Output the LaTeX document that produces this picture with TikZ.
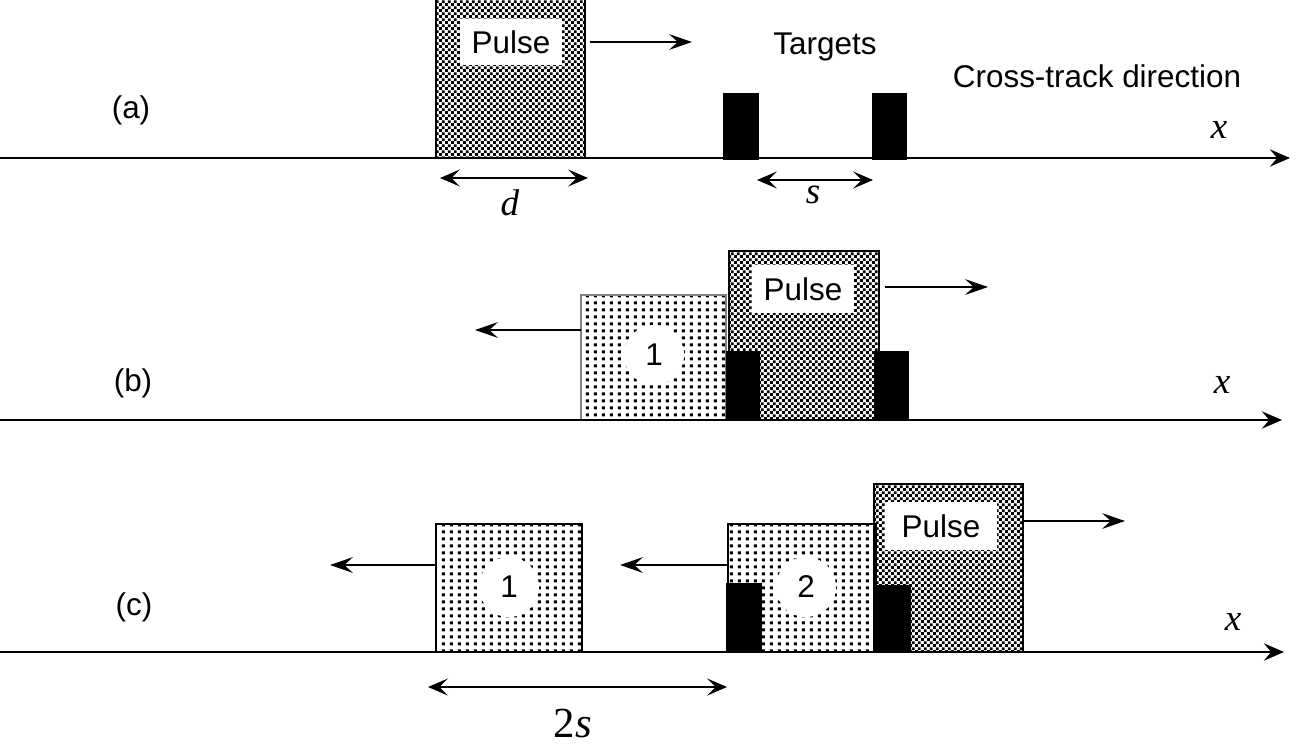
\documentclass[tikz,border=0pt]{standalone}
\usepackage{fontspec}
\setmainfont{Liberation Sans}
\newfontfamily\timesfont{Liberation Serif}
\usetikzlibrary{positioning}
\usetikzlibrary{arrows.meta}
\usetikzlibrary{patterns.meta}

\tikzdeclarepattern{
  name=checks,
  tile size={(2.2pt,2.2pt)},
  bounding box={(0pt,0pt) and (2.2pt,2.2pt)},
  code={\fill (0pt,0pt) rectangle (1.1pt,1.1pt);
        \fill (1.1pt,1.1pt) rectangle (2.2pt,2.2pt);}
}
\tikzdeclarepattern{
  name=dotgrid,
  tile size={(2.8pt,2.5pt)},
  bounding box={(0pt,0pt) and (2.8pt,2.5pt)},
  code={\fill (0.7pt,0.6pt) rectangle (1.9pt,1.8pt);}
}

\newcommand{\varit}[1]{{\timesfont\itshape #1}}

\begin{document}
\begin{tikzpicture}[x=0.35pt, y=-0.35pt,
  axis/.style={line width=0.9pt, -{Stealth[length=7pt,width=6pt,inset=2.5pt]}},
  move/.style={line width=0.6pt, -{Stealth[length=8pt,width=5.5pt,inset=3pt]}},
  span/.style={line width=0.6pt, {Stealth[length=7pt,width=6pt,inset=3pt]}-{Stealth[length=7pt,width=6pt,inset=3pt]}},
  pulsebox/.style={draw, line width=0.6pt, pattern=checks},
  echobox/.style={draw, line width=0.6pt, pattern=dotgrid},
  target/.style={fill=black},
  tag/.style={fill=white, inner sep=0pt, minimum height=16pt, font=\fontsize{11}{13}\selectfont},
  num/.style={circle, fill=white, inner sep=0pt, minimum size=21pt, font=\fontsize{11}{13}\selectfont},
  plain/.style={font=\fontsize{11}{13}\selectfont},
  var/.style={font=\fontsize{13}{15}\selectfont}]

\useasboundingbox (0,0) rectangle (1296,746);

% (a)
{
\draw[pulsebox] (436,-5) rectangle (585,158);
\fill[target] (723,93) rectangle (759,160);
\fill[target] (872,93) rectangle (907,160);

\coordinate (ax0) at (0,158);
\coordinate (ax1) at (1290,158);
\draw[axis] (ax0) -- (ax1);

\node[tag, minimum width=36pt] (pa) at (511,42) {Pulse};
\coordinate (pa0) at (590,42);
\coordinate (pa1) at (692,42);
\draw[move] (pa0) -- (pa1);

\coordinate (d0) at (440,178);
\coordinate (d1) at (588,178);
\draw[span] (d0) -- (d1);
\coordinate (s0) at (757,180);
\coordinate (s1) at (873,180);
\draw[span] (s0) -- (s1);

% nodes
\node[plain] (la) at (131,110) {(a)};
\node[plain] (tg) at (825,47) {Targets};
\node[plain] (ct) at (1097,76) {Cross-track direction};
\node[var] (xa) at (1219,130) {\varit{x}};
\node[var] (dd) at (510,203) {\varit{d}};
\node[var] (ss) at (813,195) {\varit{s}};
}

% (b)
{
\draw[echobox, draw=gray] (581,295) rectangle (726,420);
\draw[pulsebox] (729,251) rectangle (879,420);
\fill[target] (726,351) rectangle (760,420);
\fill[target] (874,351) rectangle (909,420);

\coordinate (bx0) at (0,420);
\coordinate (bx1) at (1282,420);
\draw[axis] (bx0) -- (bx1);

\node[tag, minimum width=35.5pt, minimum height=17pt] (pb) at (803,289) {Pulse};
\coordinate (pb0) at (885,287);
\coordinate (pb1) at (988,287);
\draw[move] (pb0) -- (pb1);

\node[num] (eb1) at (654,355) {1};
\coordinate (eb0) at (581,330);
\coordinate (eb2) at (475,330);
\draw[move] (eb0) -- (eb2);

% nodes
\node[plain] (lb) at (133,383) {(b)};
\node[var] (xb) at (1222,385) {\varit{x}};
}

% (c)
{
\draw[echobox] (436,524) rectangle (582,652);
\draw[echobox] (728,524) rectangle (876,652);
\draw[pulsebox] (874,484) rectangle (1023,652);
\fill[target] (726,583) rectangle (762,653);
\fill[target] (876,585) rectangle (911,653);

\coordinate (cx0) at (0,652);
\coordinate (cx1) at (1284,652);
\draw[axis] (cx0) -- (cx1);

\node[tag, minimum width=39pt, minimum height=17pt] (pc) at (941,526) {Pulse};
\coordinate (pc0) at (1023,521);
\coordinate (pc1) at (1125,521);
\draw[move] (pc0) -- (pc1);

\node[num] (ec1) at (509,587) {1};
\coordinate (ec0) at (436,565);
\coordinate (ec2) at (330,565);
\draw[move] (ec0) -- (ec2);

\node[num] (ec3) at (806,587) {2};
\coordinate (ec4) at (727,565);
\coordinate (ec5) at (620,565);
\draw[move] (ec4) -- (ec5);

\coordinate (t0) at (428,687);
\coordinate (t1) at (727,687);
\draw[span] (t0) -- (t1);

% nodes
\node[plain] (lc) at (134,607) {(c)};
\node[var] (xc) at (1233,622) {\varit{x}};
\node[var, font=\fontsize{15}{17}\selectfont] (ts) at (573,724) {{\timesfont 2}\varit{s}};
}

\end{tikzpicture}
\end{document}
